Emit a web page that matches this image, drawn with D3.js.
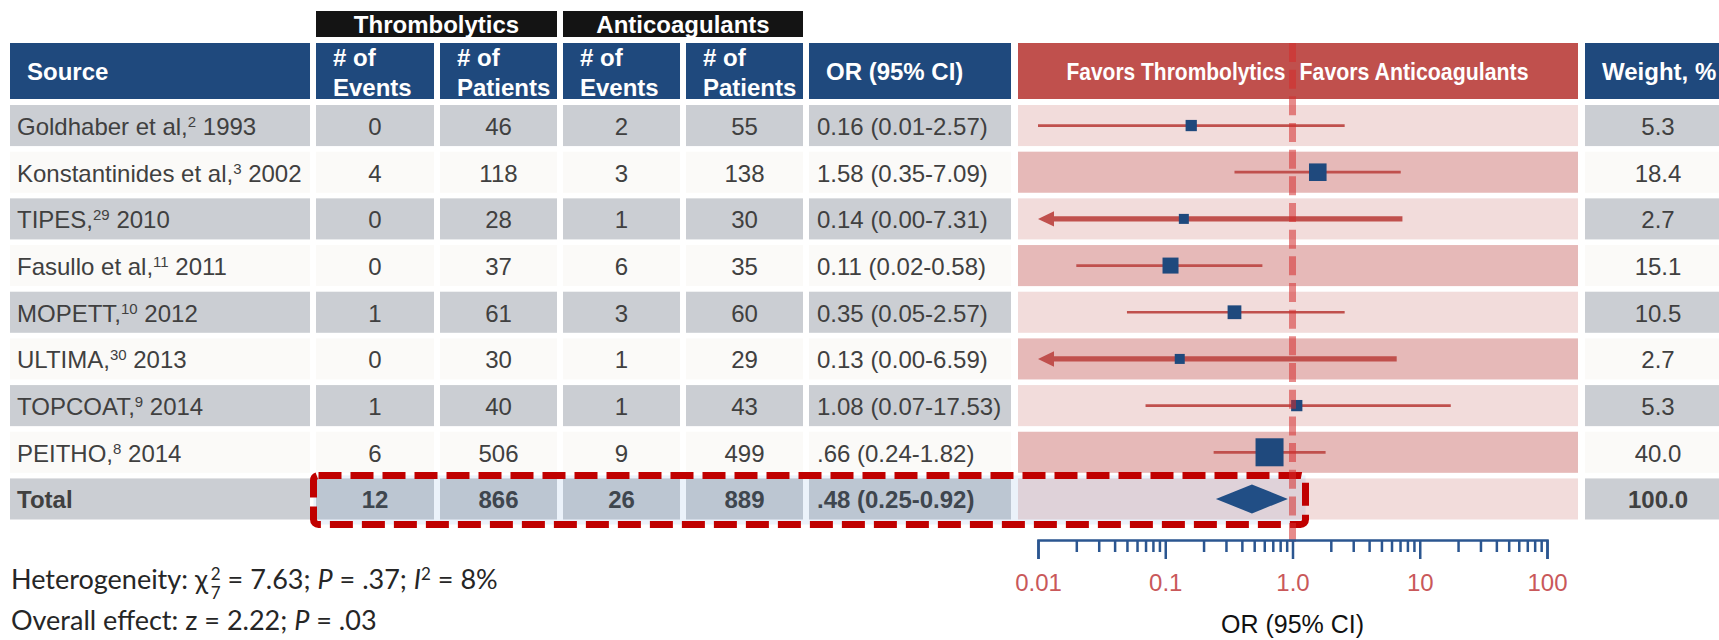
<!DOCTYPE html>
<html>
<head>
<meta charset="utf-8">
<script src="https://cdn.jsdelivr.net/npm/d3@7"></script>
<style>
  html, body { margin: 0; padding: 0; background: #ffffff; }
  svg { display: block; }
  text { font-family: "Liberation Sans", Arial, Helvetica, sans-serif; }
  text.stats { font-family: Lato, "Open Sans", sans-serif; }
</style>
</head>
<body>
<svg id="chart" width="1719" height="640"></svg>
<script>
// ---- Study-level data ----
const studyNames = ["Goldhaber et al,", "Konstantinides et al,", "TIPES,", "Fasullo et al,", "MOPETT,", "ULTIMA,", "TOPCOAT,", "PEITHO,"];
const studyRefs = ["2", "3", "29", "11", "10", "30", "9", "8"];
const studyYears = ["1993", "2002", "2010", "2011", "2012", "2013", "2014", "2014"];
const thrombEvents = [0, 4, 0, 0, 1, 0, 1, 6];
const thrombPatients = [46, 118, 28, 37, 61, 30, 40, 506];
const anticoagEvents = [2, 3, 1, 6, 3, 1, 1, 9];
const anticoagPatients = [55, 138, 30, 35, 60, 29, 43, 499];
const oddsRatios = [0.16, 1.58, 0.14, 0.11, 0.35, 0.13, 1.08, 0.66];
const ciLower = [0.01, 0.35, 0.00, 0.02, 0.05, 0.00, 0.07, 0.24];
const ciUpper = [2.57, 7.09, 7.31, 0.58, 2.57, 6.59, 17.53, 1.82];
const orLabels = ["0.16 (0.01-2.57)", "1.58 (0.35-7.09)", "0.14 (0.00-7.31)", "0.11 (0.02-0.58)",
                  "0.35 (0.05-2.57)", "0.13 (0.00-6.59)", "1.08 (0.07-17.53)", ".66 (0.24-1.82)"];
const weights = [5.3, 18.4, 2.7, 15.1, 10.5, 2.7, 5.3, 40.0];

// ---- Pooled result ----
const totalName = "Total";
const totalThrombEvents = 12;
const totalThrombPatients = 866;
const totalAnticoagEvents = 26;
const totalAnticoagPatients = 889;
const totalOR = 0.48;
const totalLower = 0.25;
const totalUpper = 0.92;
const totalORLabel = ".48 (0.25-0.92)";
const totalWeight = 100.0;

// ---- Axis ----
const axisTicks = [0.01, 0.1, 1, 10, 100];
const axisTickLabels = ["0.01", "0.1", "1.0", "10", "100"];

// ---- Palette ----
const C = {
  headBlue: "#1f497d",
  banner: "#141414",
  headRed: "#c0504d",
  pinkLight: "#f2dcdb",
  pinkMid: "#e6b9b8",
  gray: "#cbced3",
  offWhite: "#fbfaf8",
  text: "#404040",
  ci: "#c0504d",
  marker: "#1f497d",
  axis: "#2b5690",
  tick: "#c9585a",
  box: "#c00000"
};

const svg = d3.select("#chart");

// Column extents (left, right)
const cols = {
  source: [10, 310],
  thrEv: [316, 434],
  thrPt: [440, 557],
  antEv: [563, 680],
  antPt: [686, 803],
  or: [809, 1011],
  forest: [1018, 1578],
  weight: [1585, 1731]
};
const headTop = 43, headBottom = 99;

const nRows = studyNames.length + 1;
const y = d3.scaleBand().domain(d3.range(nRows)).range([105, 519.5]).paddingInner(0.12);
const x = d3.scaleLog().domain([0.01, 100]).range([1038, 1547]);
const markerSize = d3.scaleLinear().domain([0, 40]).range([8.7, 28]);
const fmtWeight = d3.format(".1f");

// ---- Group banners ----
const banners = [
  { label: "Thrombolytics", x0: cols.thrEv[0], x1: cols.thrPt[1] },
  { label: "Anticoagulants", x0: cols.antEv[0], x1: cols.antPt[1] }
];
const bannerG = svg.append("g");
bannerG.selectAll("rect").data(banners).join("rect")
  .attr("x", d => d.x0).attr("y", 11)
  .attr("width", d => d.x1 - d.x0).attr("height", 26)
  .attr("fill", C.banner);
bannerG.selectAll("text").data(banners).join("text")
  .attr("x", d => (d.x0 + d.x1) / 2).attr("y", 33)
  .attr("text-anchor", "middle")
  .attr("font-size", 24).attr("font-weight", "bold").attr("fill", "#ffffff")
  .text(d => d.label);

// ---- Header cells ----
const headG = svg.append("g");
const headerCells = ["source", "thrEv", "thrPt", "antEv", "antPt", "or", "forest", "weight"];
headG.selectAll("rect").data(headerCells).join("rect")
  .attr("x", d => cols[d][0]).attr("y", headTop)
  .attr("width", d => cols[d][1] - cols[d][0]).attr("height", headBottom - headTop)
  .attr("fill", d => d === "forest" ? C.headRed : C.headBlue);

function headText(tx, ty, str, size, anchor) {
  return headG.append("text")
    .attr("x", tx).attr("y", ty)
    .attr("text-anchor", anchor || "start")
    .attr("font-size", size || 24).attr("font-weight", "bold").attr("fill", "#ffffff")
    .text(str);
}
headText(cols.source[0] + 17, 80, "Source");
[["thrEv", "Events"], ["thrPt", "Patients"], ["antEv", "Events"], ["antPt", "Patients"]].forEach(([k, w]) => {
  headText(cols[k][0] + 17, 66, "# of");
  headText(cols[k][0] + 17, 95.5, w);
});
headText(cols.or[0] + 17, 80, "OR (95% CI)");
headText(cols.weight[0] + 17, 80, "Weight, %");
// narrow lettering on either side of the line of no effect
headText(x(1) - 7, 80, "Favors Thrombolytics", 23, "end")
  .attr("textLength", 219).attr("lengthAdjust", "spacingAndGlyphs");
headText(x(1) + 7, 80, "Favors Anticoagulants", 23, "start")
  .attr("textLength", 229).attr("lengthAdjust", "spacingAndGlyphs");

// ---- Body cells ----
const bodyG = svg.append("g");
const rowIdx = d3.range(nRows);
["source", "thrEv", "thrPt", "antEv", "antPt", "or", "weight"].forEach(k => {
  bodyG.selectAll(null).data(rowIdx).join("rect")
    .attr("x", cols[k][0]).attr("y", i => y(i))
    .attr("width", cols[k][1] - cols[k][0]).attr("height", y.bandwidth())
    .attr("fill", i => i % 2 === 0 ? C.gray : C.offWhite);
});
bodyG.selectAll(null).data(rowIdx).join("rect")
  .attr("x", cols.forest[0]).attr("y", i => y(i))
  .attr("width", cols.forest[1] - cols.forest[0]).attr("height", y.bandwidth())
  .attr("fill", i => i % 2 === 0 ? C.pinkLight : C.pinkMid);

// ---- Cell text ----
const textG = svg.append("g").attr("fill", C.text).attr("font-size", 24);
const baseOff = 30;

// Source column with superscript reference numbers
studyNames.forEach((name, i) => {
  const t = textG.append("text").attr("x", cols.source[0] + 7).attr("y", y(i) + baseOff);
  t.append("tspan").text(name);
  t.append("tspan").attr("font-size", 15).attr("dy", -8).text(studyRefs[i]);
  t.append("tspan").attr("dy", 8).text(" " + studyYears[i]);
});
textG.append("text").attr("x", cols.source[0] + 7).attr("y", y(nRows - 1) + baseOff)
  .attr("font-weight", "bold").text(totalName);

const numericCols = [
  ["thrEv", thrombEvents, totalThrombEvents],
  ["thrPt", thrombPatients, totalThrombPatients],
  ["antEv", anticoagEvents, totalAnticoagEvents],
  ["antPt", anticoagPatients, totalAnticoagPatients]
];
numericCols.forEach(([k, vals, tot]) => {
  const cx = (cols[k][0] + cols[k][1]) / 2;
  textG.selectAll(null).data(vals.concat([tot])).join("text")
    .attr("x", cx).attr("y", (d, i) => y(i) + baseOff)
    .attr("text-anchor", "middle")
    .attr("font-weight", (d, i) => i === nRows - 1 ? "bold" : null)
    .text(d => d);
});
textG.selectAll(null).data(orLabels.concat([totalORLabel])).join("text")
  .attr("x", cols.or[0] + 8).attr("y", (d, i) => y(i) + baseOff)
  .attr("font-weight", (d, i) => i === nRows - 1 ? "bold" : null)
  .text(d => d);
textG.selectAll(null).data(weights.concat([totalWeight])).join("text")
  .attr("x", (cols.weight[0] + cols.weight[1]) / 2).attr("y", (d, i) => y(i) + baseOff)
  .attr("text-anchor", "middle")
  .attr("font-weight", (d, i) => i === nRows - 1 ? "bold" : null)
  .text(d => fmtWeight(d));

// ---- Forest marks ----
const forestG = svg.append("g");
const xMin = x.domain()[0];
const arrowLen = 16, arrowHalf = 7.7;
oddsRatios.forEach((orv, i) => {
  const cy = y(i) + y.bandwidth() / 2;
  const clipped = ciLower[i] < xMin;
  const xa = clipped ? x(xMin) + arrowLen : x(ciLower[i]);
  forestG.append("line")
    .attr("x1", xa).attr("x2", x(ciUpper[i]))
    .attr("y1", cy).attr("y2", cy)
    .attr("stroke", C.ci).attr("stroke-width", clipped ? 5.3 : 2.7);
  if (clipped) {
    forestG.append("path")
      .attr("d", d3.line()([[x(xMin), cy], [x(xMin) + arrowLen, cy - arrowHalf], [x(xMin) + arrowLen, cy + arrowHalf]]) + "Z")
      .attr("fill", C.ci);
  }
  const s = markerSize(weights[i]);
  forestG.append("rect")
    .attr("x", x(orv) - s / 2).attr("y", cy - s / 2)
    .attr("width", s).attr("height", s)
    .attr("fill", C.marker);
});
// pooled diamond
{
  const i = nRows - 1;
  const cy = y(i) + y.bandwidth() / 2;
  const h = 14.5;
  forestG.append("path")
    .attr("d", d3.line()([[x(totalLower), cy], [x(totalOR), cy - h], [x(totalUpper), cy], [x(totalOR), cy + h]]) + "Z")
    .attr("fill", C.marker);
}

// ---- Highlight around pooled row ----
{
  const i = nRows - 1;
  const bx0 = cols.thrEv[0] - 2.5;
  const bx1 = x(1) + 13;
  const by0 = y(i) - 3;
  const by1 = y(i) + y.bandwidth() + 5;
  svg.append("rect")
    .attr("x", bx0).attr("y", by0).attr("width", bx1 - bx0).attr("height", by1 - by0)
    .attr("fill", "#3d7fd0").attr("fill-opacity", 0.1);
  svg.append("rect")
    .attr("x", bx0).attr("y", by0).attr("width", bx1 - bx0).attr("height", by1 - by0)
    .attr("rx", 5).attr("ry", 5)
    .attr("fill", "none").attr("stroke", C.box).attr("stroke-width", 7)
    .attr("stroke-dasharray", "23 9");
}

// ---- Line of no effect ----
svg.append("line")
  .attr("x1", x(1)).attr("x2", x(1))
  .attr("y1", headTop).attr("y2", 544)
  .attr("stroke", "#d42b2b").attr("stroke-opacity", 0.55)
  .attr("stroke-width", 7).attr("stroke-dasharray", "19 7.67");

// ---- Log axis ----
const axisY = 540;
const minorTicks = x.ticks().filter(v => !axisTicks.some(t => Math.abs(t - v) < 1e-9));
const minorG = svg.append("g").attr("transform", `translate(0,${axisY})`)
  .call(d3.axisBottom(x).tickValues(minorTicks).tickSize(12).tickFormat(""));
minorG.select(".domain").remove();
const majorG = svg.append("g").attr("transform", `translate(0,${axisY})`)
  .call(d3.axisBottom(x).tickValues(axisTicks).tickSize(19).tickSizeOuter(19).tickPadding(15)
    .tickFormat(d => axisTickLabels[axisTicks.indexOf(d)]));
[minorG, majorG].forEach(g => {
  g.selectAll("line").attr("stroke", C.axis).attr("stroke-width", 2.5);
  g.selectAll(".domain").attr("stroke", C.axis).attr("stroke-width", 2.5).attr("fill", "none");
});
majorG.selectAll("text")
  .attr("fill", C.tick).attr("font-size", 24)
  .attr("font-family", "'Liberation Sans', Arial, sans-serif");

svg.append("text")
  .attr("x", x(1)).attr("y", 633)
  .attr("text-anchor", "middle").attr("font-size", 25).attr("fill", "#111111")
  .text("OR (95% CI)");

// ---- Summary statistics ----
const statsG = svg.append("g").attr("fill", "#262626").attr("font-size", 27);
{
  const t = statsG.append("text").attr("class", "stats").attr("x", 11).attr("y", 589);
  t.append("tspan").text("Heterogeneity: \u03c7");
  const sup = t.append("tspan").attr("font-size", 17).attr("dx", 3).attr("dy", -9).text("2");
  const w = sup.node().getComputedTextLength();
  t.append("tspan").attr("font-size", 17).attr("dx", -w).attr("dy", 19).text("7");
  t.append("tspan").attr("dy", -10).text(" = 7.63; ");
  t.append("tspan").attr("font-style", "italic").text("P");
  t.append("tspan").text(" = .37; ");
  t.append("tspan").attr("font-style", "italic").text("I");
  t.append("tspan").attr("font-size", 17).attr("dy", -9).text("2");
  t.append("tspan").attr("dy", 9).text(" = 8%");

  const t2 = statsG.append("text").attr("class", "stats").attr("x", 11).attr("y", 630);
  t2.append("tspan").text("Overall effect: z = 2.22; ");
  t2.append("tspan").attr("font-style", "italic").text("P");
  t2.append("tspan").text(" = .03");
}
</script>
</body>
</html>
